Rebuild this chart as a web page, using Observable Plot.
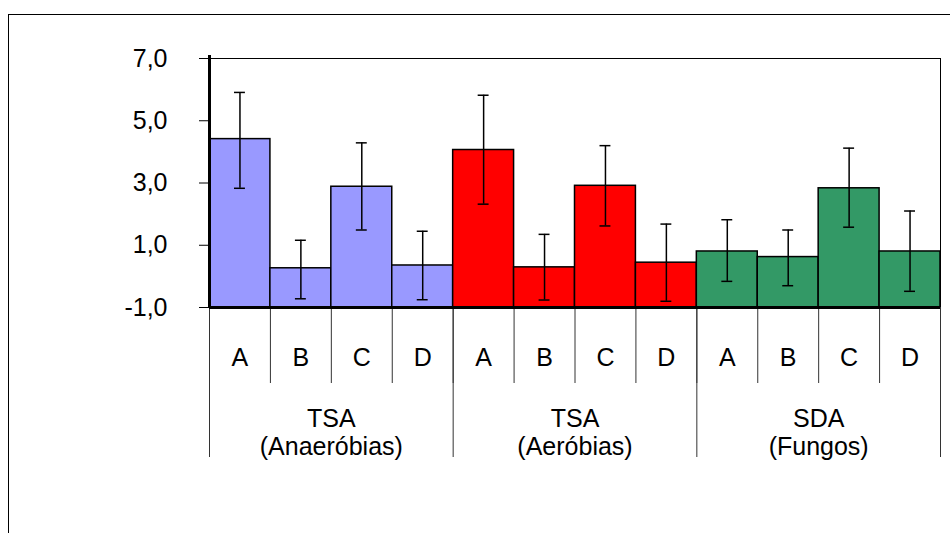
<!DOCTYPE html>
<html><head><meta charset="utf-8">
<script src="https://cdn.jsdelivr.net/npm/d3@7"></script>
<script src="https://cdn.jsdelivr.net/npm/@observablehq/plot@0.6"></script>
<style>
body{margin:0;background:#fff;}
#wrap{position:relative;width:950px;height:533px;overflow:hidden;}
#wrap svg{position:absolute;left:0;top:0;}
#border{position:absolute;left:8px;top:14px;width:1000px;height:600px;border-left:1px solid #000;border-top:1px solid #000;pointer-events:none;}
</style></head><body><div id="wrap"></div>
<script>
const groups = ["TSA\n(Anaeróbias)", "TSA\n(Aeróbias)", "SDA\n(Fungos)"];
const treatments = ["A", "B", "C", "D"];
const groupColors = ["#9999FF", "#FF0000", "#339966"];
const means = [
  [4.41, 0.26, 2.88, 0.35],
  [4.06, 0.29, 2.91, 0.44],
  [0.80, 0.62, 2.83, 0.80]
];
const highs = [
  [5.91, 1.16, 4.29, 1.45],
  [5.82, 1.35, 4.20, 1.68],
  [1.82, 1.49, 4.12, 2.10]
];
const lows = [
  [2.83, -0.72, 1.49, -0.75],
  [2.32, -0.76, 1.62, -0.80],
  [-0.16, -0.30, 1.58, -0.48]
];
const yTicks = [-1, 1, 3, 5, 7];
const yMin = -1, yMax = 7;

const rows = [];
groups.forEach((g, gi) => treatments.forEach((t, ti) => {
  const i = gi * treatments.length + ti;
  rows.push({group: g, t, x1: i, x2: i + 1, xc: i + 0.5,
    mean: means[gi][ti], lo: lows[gi][ti], hi: highs[gi][ti]});
}));
const n = rows.length;
const boundaries = d3.range(0, n + 1);
const groupBounds = d3.range(0, n + 1, treatments.length);
const groupRows = groups.map((g, gi) => ({label: g, xc: gi * treatments.length + treatments.length / 2}));

const marginTop = 58, marginBottom = 226;
const frameH = 533 - marginTop - marginBottom;

const chart = Plot.plot({
  width: 950, height: 533,
  marginLeft: 209, marginRight: 10, marginTop, marginBottom,
  style: {fontFamily: "'Liberation Sans', Arial, sans-serif", fontSize: "25px", color: "#000", background: "transparent", overflow: "visible"},
  x: {domain: [0, n], axis: null},
  y: {domain: [yMin, yMax], axis: null, label: null},
  color: {domain: groups, range: groupColors},
  marks: [
    Plot.frame({stroke: "#000", strokeWidth: 1}),
    Plot.rectY(rows, {x1: "x1", x2: "x2", y1: () => yMin, y2: "mean", fill: "group", stroke: "#000", strokeWidth: 1.5}),
    Plot.ruleX(rows, {x: "xc", y1: "lo", y2: "hi", stroke: "#000", strokeWidth: 1.5}),
    Plot.ruleY(rows, {y: "hi", x1: "x1", x2: "x2", insetLeft: 25, insetRight: 25, stroke: "#000", strokeWidth: 1.5}),
    Plot.ruleY(rows, {y: "lo", x1: "x1", x2: "x2", insetLeft: 25, insetRight: 25, stroke: "#000", strokeWidth: 1.5}),
    Plot.ruleX(boundaries, {x: d => d, dy: frameH, insetBottom: frameH - 76, stroke: "#333", strokeWidth: 1}),
    Plot.ruleX(groupBounds, {x: d => d, dy: frameH, insetBottom: frameH - 150, stroke: "#333", strokeWidth: 1}),
    Plot.ruleY([yMin], {stroke: "#000", strokeWidth: 3}),
    Plot.ruleX([0], {stroke: "#000", strokeWidth: 3, insetTop: -3}),
    Plot.axisY({ticks: yTicks, tickSize: 10, tickPadding: 32, label: null, fontSize: 25,
      tickFormat: d => d.toFixed(1).replace(".", ",")}),
    Plot.text(rows, {x: "xc", text: "t", frameAnchor: "bottom", dy: 58, fontSize: 25}),
    Plot.text(groupRows, {x: "xc", text: "label", frameAnchor: "bottom", dy: 147, lineHeight: 1.1, fontSize: 25})
  ]
});
const wrap = document.getElementById("wrap");
wrap.appendChild(chart);
const b = document.createElement("div");
b.id = "border";
wrap.appendChild(b);
</script>
</body></html>
